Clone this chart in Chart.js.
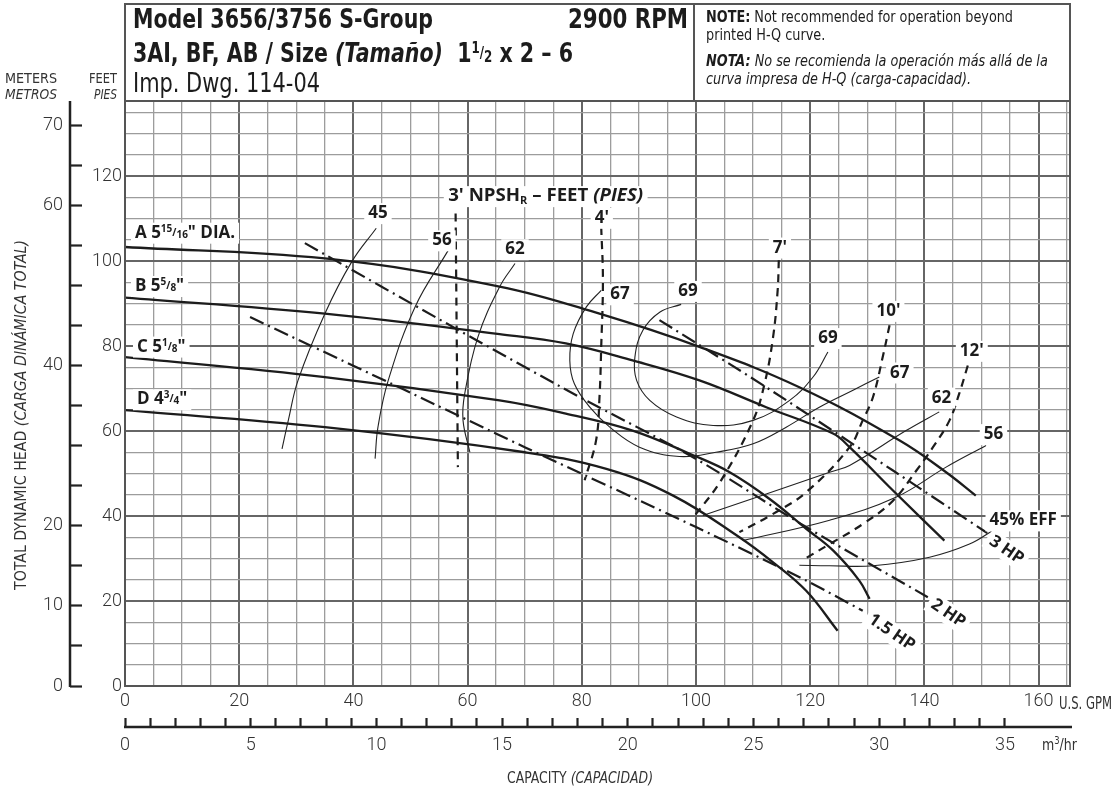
<!DOCTYPE html>
<html>
<head>
<meta charset="utf-8">
<title>Model 3656/3756 S-Group 2900 RPM</title>
<script src="https://cdn.jsdelivr.net/npm/chart.js@4.4.1/dist/chart.umd.min.js"></script>
<style>
  html, body { margin: 0; padding: 0; background: #fff; }
  canvas { display: block; }
</style>
</head>
<body>
<canvas id="pump" width="1116" height="787"></canvas>
<script>
// Values: capacity in U.S. GPM, head in feet.

// Impeller head curves A-D
const headA_gpm = [0, 35, 65.6, 83.1, 100.6, 118.1, 135.6, 143.8, 149.0];
const headA_ft  = [103.3, 100.6, 94.0, 87.6, 79.8, 70.3, 57.8, 50.3, 44.8];
const headB_gpm = [0, 35, 65.6, 77.2, 88.9, 100.6, 112.3, 124, 126.9, 134.5, 143.5];
const headB_ft  = [91.4, 87.6, 82.8, 80.6, 76.6, 71.9, 65.6, 59.4, 56.2, 46.0, 34.2];
const headC_gpm = [0, 35, 65.6, 77.2, 88.9, 99.5, 105.9, 112.9, 119.3, 124, 128.6, 130.4];
const headC_ft  = [77.4, 72.7, 67.2, 64.1, 60.1, 54.3, 50.3, 44.0, 37.0, 31.9, 24.8, 20.5];
const headD_gpm = [0, 35, 70, 84.3, 96, 107.6, 113.5, 119.3, 124.8];
const headD_ft  = [64.9, 60.9, 55.0, 51.1, 44.8, 35.0, 29.1, 22.4, 13.0];

// Efficiency lines (%)
const eff45L_gpm = [44.0, 39.7, 35, 30.3, 28.6, 27.5];
const eff45L_ft  = [107.7, 99.8, 87.6, 71.9, 62.5, 55.8];
const eff45R_gpm = [118.1, 123.4, 131, 140.9, 147.9, 152];
const eff45R_ft  = [28.4, 28.3, 28.3, 30.3, 33.4, 36.6];
const eff56L_gpm = [56.6, 50.8, 46.1, 44.3, 43.8];
const eff56L_ft  = [102.5, 89.2, 71.9, 60.9, 53.5];
const eff56R_gpm = [108.2, 123.4, 135, 143.8, 150.8];
const eff56R_ft  = [34.2, 39.0, 44.4, 51.5, 56.6];
const eff62L_gpm = [68.3, 65.6, 61.8, 59.5, 59.2, 60.4];
const eff62L_ft  = [99.4, 93.9, 82.1, 68.8, 62.5, 55.0];
const eff62R_gpm = [101.2, 123.4, 126.9, 136.8, 142.6];
const eff62R_ft  = [40.1, 50.3, 51.9, 60.1, 64.5];
const eff67_gpm = [83.4, 80.8, 78.5, 77.9, 78.7, 81.4, 84.9, 90.1, 97.1, 103.5, 110, 115.8, 121.6, 127.5, 132.1];
const eff67_ft  = [93.1, 89.2, 82.9, 76.6, 71.1, 65.6, 60.9, 56.2, 54.0, 55.0, 57.0, 60.9, 65.6, 69.6, 72.7];
const eff69_gpm = [97.4, 93.7, 90.7, 89.3, 89.6, 91.9, 96.6, 103, 110, 116.4, 120.5, 123.1];
const eff69_ft  = [89.8, 88.0, 83.7, 77.4, 71.9, 67.2, 63.3, 61.3, 62.5, 67.2, 72.7, 78.6];

// NPSHr lines (feet)
const npsh3_gpm  = [57.9, 58.3];
const npsh3_ft   = [111.2, 51.5];
const npsh4_gpm  = [83.4, 83.7, 83.4, 83.1, 82.5, 80.5];
const npsh4_ft   = [108, 95.5, 79.8, 68, 57.8, 48.4];
const npsh7_gpm  = [114.5, 114.3, 113.5, 112, 110, 104.4, 99.5];
const npsh7_ft   = [100.2, 93.1, 82.1, 71.1, 62.5, 48.4, 39.6];
const npsh10_gpm = [133.9, 132.7, 131, 129.2, 126.9, 119.3, 113.5, 107.6];
const npsh10_ft  = [84.9, 77.4, 68, 62.5, 56.2, 45.6, 40.5, 36.2];
const npsh12_gpm = [147.6, 146.1, 144.4, 141.5, 138.6, 134.5, 129.2, 123.4, 119];
const npsh12_ft  = [75.4, 68.8, 62.5, 56.2, 50.7, 43.6, 38.1, 33.4, 29.9];

// Motor power lines
const hp15_gpm = [21.9, 46.7, 70, 100, 119.3, 129.2];
const hp15_ft  = [86.8, 71.1, 56.2, 37.4, 24.8, 17.7];
const hp2_gpm  = [31.5, 57.8, 79.6, 99.4, 119.3, 140.6];
const hp2_ft   = [104.2, 84.2, 68.0, 53.9, 37.4, 20.9];
const hp3_gpm  = [93.6, 112.3, 134.5, 151];
const hp3_ft   = [86.1, 70.3, 50.7, 36.0];

// Axis ranges and tick labels
const GPM_PER_M3H = 4.4029;
const gpmMax = 165.5, ftMax = 137.65, mMax = 73.1;
const gpmTicks = [0, 20, 40, 60, 80, 100, 120, 140, 160];
const m3hTicks = [0, 5, 10, 15, 20, 25, 30, 35];
const ftTicks = [0, 20, 40, 60, 80, 100, 120];
const mTicks = [0, 10, 20, 40, 60, 70];

const NARROW = '"Liberation Sans Narrow", "DejaVu Sans Condensed", Roboto, sans-serif';
const LABEL = '"Open Sans", "Liberation Sans", sans-serif';
const INK = '#1c1c1c';

function pts(xs, ys) {
  return xs.map((x, i) => ({ x: x, y: ys[i] }));
}

const HEAD = { borderColor: INK, borderWidth: 2.3, tension: 0.4 };
const EFF = { borderColor: '#222', borderWidth: 1.1, tension: 0.4 };
const NPSH = { borderColor: INK, borderWidth: 2.2, tension: 0.4, borderDash: [8, 6] };
const HP = { borderColor: INK, borderWidth: 2.2, tension: 0.3, borderDash: [15, 5, 2, 5] };

const datasets = [
  { label: 'A', data: pts(headA_gpm, headA_ft), ...HEAD },
  { label: 'B', data: pts(headB_gpm, headB_ft), ...HEAD },
  { label: 'C', data: pts(headC_gpm, headC_ft), ...HEAD },
  { label: 'D', data: pts(headD_gpm, headD_ft), ...HEAD },
  { label: '45L', data: pts(eff45L_gpm, eff45L_ft), ...EFF },
  { label: '45R', data: pts(eff45R_gpm, eff45R_ft), ...EFF },
  { label: '56L', data: pts(eff56L_gpm, eff56L_ft), ...EFF },
  { label: '56R', data: pts(eff56R_gpm, eff56R_ft), ...EFF },
  { label: '62L', data: pts(eff62L_gpm, eff62L_ft), ...EFF },
  { label: '62R', data: pts(eff62R_gpm, eff62R_ft), ...EFF },
  { label: '67', data: pts(eff67_gpm, eff67_ft), ...EFF },
  { label: '69', data: pts(eff69_gpm, eff69_ft), ...EFF },
  { label: "3'", data: pts(npsh3_gpm, npsh3_ft), ...NPSH },
  { label: "4'", data: pts(npsh4_gpm, npsh4_ft), ...NPSH },
  { label: "7'", data: pts(npsh7_gpm, npsh7_ft), ...NPSH },
  { label: "10'", data: pts(npsh10_gpm, npsh10_ft), ...NPSH },
  { label: "12'", data: pts(npsh12_gpm, npsh12_ft), ...NPSH },
  { label: '1.5 HP', data: pts(hp15_gpm, hp15_ft), ...HP },
  { label: '2 HP', data: pts(hp2_gpm, hp2_ft), ...HP },
  { label: '3 HP', data: pts(hp3_gpm, hp3_ft), ...HP }
].map(d => ({ showLine: true, pointRadius: 0, fill: false, ...d }));

// label anchors (GPM, ft)
const B16 = 'bold 17px ' + LABEL;
const B16I = 'italic bold 17px ' + LABEL;
const B10 = 'bold 10px ' + LABEL;
function frac(n, d) {
  return [{ t: n, f: B10, dy: -6 }, { t: '/', f: B10, dy: -2 }, { t: d, f: B10, dy: 0 }];
}
const headLabels = [
  { runs: [{ t: 'A 5', f: B16 }, ...frac('15', '16'), { t: '" DIA.', f: B16 }], x: 1.75, y: 106.9 },
  { runs: [{ t: 'B 5', f: B16 }, ...frac('5', '8'), { t: '"', f: B16 }], x: 1.75, y: 94.35 },
  { runs: [{ t: 'C 5', f: B16 }, ...frac('1', '8'), { t: '"', f: B16 }], x: 2.1, y: 80.1 },
  { runs: [{ t: 'D 4', f: B16 }, ...frac('3', '4'), { t: '"', f: B16 }], x: 2.1, y: 67.7 }
];
const plainLabels = [
  ['45', 44.3, 111.5], ['56', 55.5, 105.1], ['62', 68.3, 103.0], ['67', 86.7, 92.4],
  ['69', 98.6, 93.2], ['69', 123.1, 82.1], ['67', 135.7, 74.0], ['62', 143.0, 68.1],
  ['56', 152.1, 59.5], ['45% EFF', 157.3, 39.2],
  ["4'", 83.5, 110.4], ["7'", 114.7, 103.4], ["10'", 133.7, 88.5], ["12'", 148.3, 79.1]
];
const hpLabels = [['3 HP', 154.5, 32.2], ['2 HP', 144.3, 17.3], ['1.5 HP', 134.4, 12.8]];

function runsWidth(ctx, runs) {
  let w = 0;
  for (const r of runs) { ctx.font = r.f; w += ctx.measureText(r.t).width; }
  return w;
}

// y is the alphabetic baseline
function drawRuns(ctx, runs, x, y, o) {
  o = o || {};
  ctx.save();
  ctx.textBaseline = 'alphabetic';
  const w = runsWidth(ctx, runs);
  const sx = o.width ? o.width / w : 1;
  ctx.translate(x, y);
  if (o.rotate) ctx.rotate(o.rotate);
  ctx.scale(sx, 1);
  let cx = o.align === 'center' ? -w / 2 : o.align === 'right' ? -w : 0;
  if (o.pad !== undefined) {
    ctx.fillStyle = '#fff';
    ctx.fillRect(cx - o.pad, -o.up, w + o.pad * 2, o.up + o.down);
  }
  ctx.fillStyle = o.color || INK;
  for (const r of runs) {
    ctx.font = r.f;
    ctx.fillText(r.t, cx, r.dy || 0);
    cx += ctx.measureText(r.t).width;
  }
  ctx.restore();
}

const sheet = {
  id: 'sheet',
  beforeDraw(chart) {
    const ctx = chart.ctx;
    ctx.save();
    ctx.fillStyle = '#fff';
    ctx.fillRect(0, 0, chart.width, chart.height);
    ctx.restore();
  },
  afterDatasetsDraw(chart) {
    const ctx = chart.ctx, xs = chart.scales.x, ys = chart.scales.y;
    const box = { pad: 4, up: 15, down: 6 };
    headLabels.forEach(l => {
      drawRuns(ctx, l.runs, xs.getPixelForValue(l.x), ys.getPixelForValue(l.y) + 6, box);
    });
    plainLabels.forEach(([t, x, y]) => {
      drawRuns(ctx, [{ t: t, f: B16 }], xs.getPixelForValue(x), ys.getPixelForValue(y) + 6,
        { ...box, align: 'center' });
    });
    drawRuns(ctx, [{ t: "3' NPSH", f: B16 }, { t: 'R', f: B10, dy: 3 }, { t: ' \u2013 FEET ', f: B16 }, { t: '(PIES)', f: B16I }],
      xs.getPixelForValue(56.6), ys.getPixelForValue(115.5) + 6, { ...box, width: 195 });
    hpLabels.forEach(([t, x, y]) => {
      const px = xs.getPixelForValue(x), py = ys.getPixelForValue(y);
      ctx.save();
      ctx.translate(px, py);
      ctx.rotate(0.6);
      drawRuns(ctx, [{ t: t, f: B16 }], 0, 6, { ...box, align: 'center' });
      ctx.restore();
    });
  },
  afterDraw(chart) {
    const ctx = chart.ctx, a = chart.chartArea;
    const x2 = chart.scales.x2, y2 = chart.scales.y2;
    ctx.save();
    // plot frame
    ctx.strokeStyle = '#555';
    ctx.lineWidth = 2;
    ctx.strokeRect(a.left, a.top, a.right - a.left, a.bottom - a.top);
    // header box
    ctx.strokeRect(a.left, 4, a.right - a.left, a.top - 4);
    ctx.beginPath();
    ctx.moveTo(694, 4);
    ctx.lineTo(694, a.top);
    ctx.stroke();
    // meters axis line (ticks come from the y2 scale)
    ctx.strokeStyle = '#222';
    ctx.lineWidth = 2.5;
    ctx.beginPath();
    ctx.moveTo(y2.right - 12, a.top);
    ctx.lineTo(y2.right - 12, y2.getPixelForValue(0) + 1);
    ctx.stroke();
    // m3/hr axis line
    ctx.beginPath();
    ctx.moveTo(a.left - 1, x2.top + 9);
    ctx.lineTo(a.right + 2, x2.top + 9);
    ctx.stroke();
    ctx.restore();

    const HB = 'bold 26px ' + NARROW, HBI = 'italic bold 26px ' + NARROW, HR = '26px ' + NARROW;
    const HS = 'bold 15px ' + NARROW;
    drawRuns(ctx, [{ t: 'Model 3656/3756 S-Group', f: HB }], 133, 28, { width: 300 });
    drawRuns(ctx, [{ t: '2900 RPM', f: HB }], 688, 28, { align: 'right', width: 120 });
    drawRuns(ctx, [{ t: '3AI, BF, AB / Size ', f: HB }, { t: '(Tama\u00f1o)', f: HBI }, { t: '  1', f: HB },
      { t: '1', f: HS, dy: -9 }, { t: '/', f: HS, dy: -4 }, { t: '2', f: HS, dy: 0 }, { t: ' x 2 \u2013 6', f: HB }],
      133, 62, { width: 440 });
    drawRuns(ctx, [{ t: 'Imp. Dwg. 114-04', f: HR }], 133, 92, { width: 187 });

    const NB = 'bold 16px ' + NARROW, NR = '16px ' + NARROW, NBI = 'italic bold 16px ' + NARROW, NI = 'italic 16px ' + NARROW;
    const n1 = [{ t: 'NOTE:', f: NB }, { t: ' Not recommended for operation beyond', f: NR }];
    const sx = 307 / runsWidth(ctx, n1);
    const w = runs => runsWidth(ctx, runs) * sx;
    const n2 = [{ t: 'printed H-Q curve.', f: NR }];
    const n3 = [{ t: 'NOTA:', f: NBI }, { t: ' No se recomienda la operaci\u00f3n m\u00e1s all\u00e1 de la', f: NI }];
    const n4 = [{ t: 'curva impresa de H-Q (carga-capacidad).', f: NI }];
    drawRuns(ctx, n1, 706, 22, { width: w(n1) });
    drawRuns(ctx, n2, 706, 40, { width: w(n2) });
    drawRuns(ctx, n3, 706, 66, { width: w(n3) });
    drawRuns(ctx, n4, 706, 84, { width: w(n4) });

    const SR = '14px ' + NARROW, SI = 'italic 14px ' + NARROW;
    drawRuns(ctx, [{ t: 'METERS', f: SR }], 5, 83, { width: 52, color: '#333' });
    drawRuns(ctx, [{ t: 'METROS', f: SI }], 5, 99, { width: 52, color: '#333' });
    drawRuns(ctx, [{ t: 'FEET', f: SR }], 117, 83, { align: 'right', width: 28, color: '#333' });
    drawRuns(ctx, [{ t: 'PIES', f: SI }], 117, 99, { align: 'right', width: 23, color: '#333' });

    const TR = '16px ' + NARROW, TI = 'italic 16px ' + NARROW;
    ctx.save();
    ctx.translate(26, 415);
    ctx.rotate(-Math.PI / 2);
    drawRuns(ctx, [{ t: 'TOTAL DYNAMIC HEAD ', f: TR }, { t: '(CARGA DIN\u00c1MICA TOTAL)', f: TI }], 0, 0,
      { align: 'center', width: 350, color: '#333' });
    ctx.restore();

    drawRuns(ctx, [{ t: 'U.S. GPM', f: '17px ' + NARROW }], 1059, 709, { width: 53, color: '#333' });
    drawRuns(ctx, [{ t: 'm', f: '15px ' + NARROW }, { t: '3', f: '10px ' + NARROW, dy: -6 }, { t: '/hr', f: '15px ' + NARROW }],
      1042, 750, { width: 35, color: '#333' });
    drawRuns(ctx, [{ t: 'CAPACITY ', f: '16px ' + NARROW }, { t: '(CAPACIDAD)', f: 'italic 16px ' + NARROW }],
      507, 783, { width: 146, color: '#333' });
  }
};

const gridColor = c => (c.tick && c.tick.value % 20 === 0) ? '#666' : '#9c9c9c';
const gridWidth = c => (c.tick && c.tick.value % 20 === 0) ? 2 : 1.3;
const tickFont = { family: 'Roboto, "Open Sans", sans-serif', size: 18, weight: 300 };

new Chart(document.getElementById('pump'), {
  type: 'scatter',
  data: { datasets: datasets },
  options: {
    responsive: false,
    animation: false,
    devicePixelRatio: 1,
    layout: { padding: { top: 101, right: 46, left: 0, bottom: 0 } },
    plugins: { legend: { display: false }, tooltip: { enabled: false } },
    scales: {
      x: {
        type: 'linear', position: 'bottom', weight: 0, min: 0, max: gpmMax,
        ticks: {
          stepSize: 5, includeBounds: false, autoSkip: false, maxRotation: 0, minRotation: 0,
          padding: 5, color: '#333', font: tickFont,
          callback: v => gpmTicks.includes(v) ? String(v) : ''
        },
        grid: { drawTicks: false, color: gridColor, lineWidth: gridWidth },
        border: { display: false },
        afterFit: s => { s.height = 32; }
      },
      x2: {
        type: 'linear', position: 'bottom', weight: 1, min: 0, max: gpmMax / GPM_PER_M3H,
        ticks: {
          stepSize: 1, includeBounds: false, autoSkip: false, maxRotation: 0, minRotation: 0,
          padding: 8, color: '#333', font: tickFont,
          callback: v => m3hTicks.includes(v) ? String(v) : ''
        },
        grid: { drawOnChartArea: false, tickLength: 9, tickColor: '#222', tickWidth: 2.2 },
        border: { display: false },
        afterBuildTicks: s => { s.ticks = s.ticks.filter(t => t.value <= 35); },
        afterFit: s => { s.height = 69; }
      },
      y: {
        type: 'linear', position: 'left', weight: 0, min: 0, max: ftMax,
        ticks: {
          stepSize: 5, includeBounds: false, autoSkip: false, padding: 3, color: '#333', font: tickFont,
          callback: v => ftTicks.includes(v) ? String(v) : ''
        },
        grid: { drawTicks: false, color: gridColor, lineWidth: gridWidth },
        border: { display: false },
        afterFit: s => { s.width = 43; }
      },
      y2: {
        type: 'linear', position: 'left', weight: 1, min: 0, max: mMax,
        ticks: {
          stepSize: 5, includeBounds: false, autoSkip: false, padding: 7, color: '#333', font: tickFont,
          callback: v => mTicks.includes(v) ? String(v) : ''
        },
        grid: { drawOnChartArea: false, tickLength: 12, tickColor: '#222', tickWidth: 2.2 },
        border: { display: false },
        afterFit: s => { s.width = 82; }
      }
    }
  },
  plugins: [sheet]
});
</script>
</body>
</html>
